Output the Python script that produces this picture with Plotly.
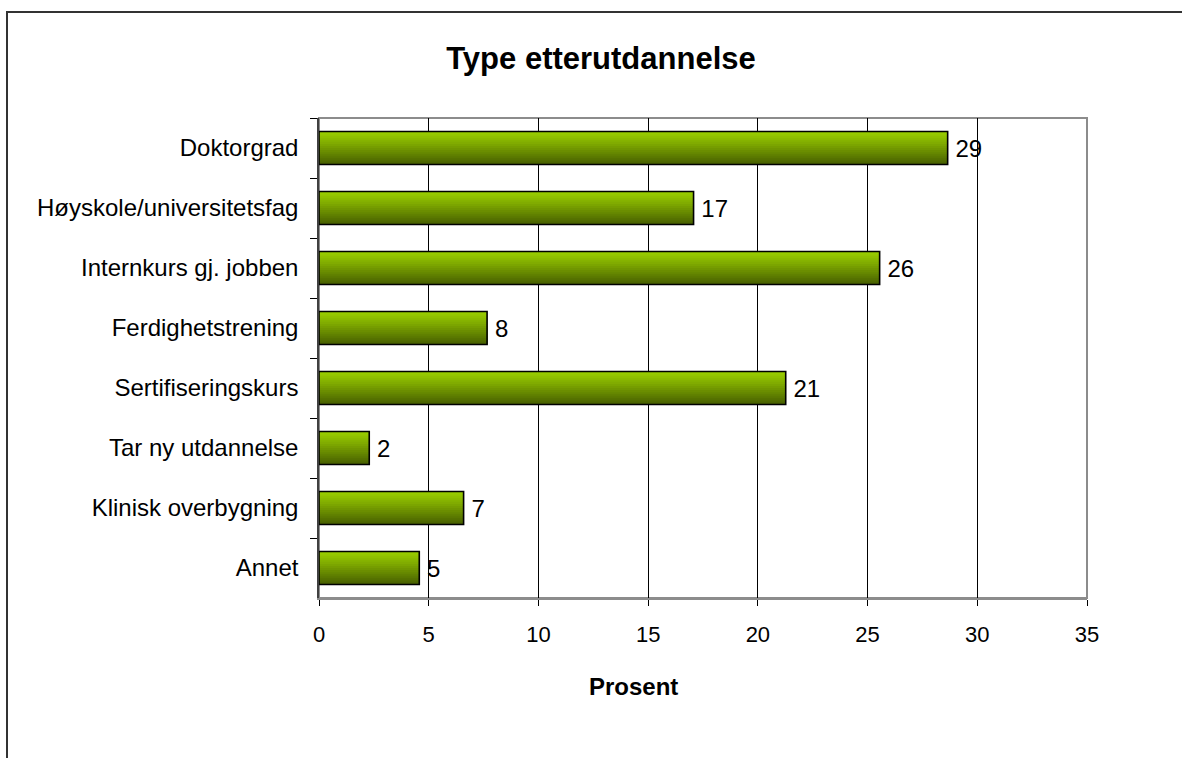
import plotly.graph_objects as go

# Survey result: type of further education (percent of respondents)
categories = [
    "Doktorgrad",
    "Høyskole/universitetsfag",
    "Internkurs gj. jobben",
    "Ferdighetstrening",
    "Sertifiseringskurs",
    "Tar ny utdannelse",
    "Klinisk overbygning",
    "Annet",
]
percent = [28.65, 17.07, 25.55, 7.66, 21.27, 2.29, 6.59, 4.57]
x_ticks = [0, 5, 10, 15, 20, 25, 30, 35]

FONT = "Liberation Sans, Arial, sans-serif"
W, H = 1182, 758
L, R, T, B = 319, 95, 118, 160
plot_w, plot_h = W - L - R, H - T - B

BAR_W = 0.55
N_STRIPS = 16
top_rgb = (153, 204, 0)
bot_rgb = (72, 96, 0)


def mix(t):
    # light green at the top, fading to dark olive towards the bottom
    t = t ** 1.1
    c = [round(a + (b - a) * t) for a, b in zip(top_rgb, bot_rgb)]
    return f"rgb({c[0]},{c[1]},{c[2]})"


fig = go.Figure()

# vertical gradient fill: stacked strips, each running to the bar's lower edge
step = BAR_W / N_STRIPS
for i in range(N_STRIPS):
    fig.add_trace(go.Bar(
        x=percent, y=categories, orientation="h",
        width=BAR_W - i * step, offset=-BAR_W / 2 + i * step,
        marker=dict(color=mix(i / (N_STRIPS - 1)), line=dict(width=0)),
        hoverinfo="skip", showlegend=False,
    ))

# outline + value labels
fig.add_trace(go.Bar(
    x=percent, y=categories, orientation="h",
    width=BAR_W, offset=-BAR_W / 2,
    marker=dict(color="rgba(0,0,0,0)", line=dict(color="black", width=1.6)),
    text=percent, texttemplate="\u2009%{x:.0f}", textposition="outside",
    textfont=dict(family=FONT, size=24, color="black"),
    constraintext="none", cliponaxis=False, showlegend=False,
))

fig.update_layout(
    width=W, height=H,
    margin=dict(l=L, r=R, t=T, b=B, pad=0),
    paper_bgcolor="white", plot_bgcolor="white",
    barmode="overlay", bargap=0.45,
    font=dict(family=FONT, color="black"),
    title=dict(
        text="<b>Type etterutdannelse</b>",
        font=dict(family=FONT, size=31, color="black"),
        x=601 / W, xref="container", xanchor="center",
        y=1 - 58 / H, yref="container", yanchor="middle",
    ),
    xaxis=dict(
        range=[0, 35], tickvals=x_ticks, ticktext=[str(v) for v in x_ticks],
        showgrid=True, gridcolor="black", gridwidth=1,
        zeroline=False, showline=True, linecolor="#8c8c8c", linewidth=2,
        ticks="outside", ticklen=6, tickcolor="black", tickwidth=1,
        tickfont=dict(family=FONT, size=22, color="black"),
        ticklabelstandoff=10, fixedrange=True,
    ),
    yaxis=dict(
        categoryorder="array", categoryarray=categories,
        autorange="reversed", showgrid=False, zeroline=False,
        showline=True, linecolor="#404040", linewidth=1.5,
        ticks="outside", tickson="boundaries", ticklen=7,
        tickcolor="black", tickwidth=1,
        tickfont=dict(family=FONT, size=24, color="black"),
        ticklabelstandoff=14, fixedrange=True,
    ),
)

# x-axis title
fig.add_annotation(
    text="<b>Prosent</b>", xref="paper", yref="paper",
    x=(633 - L) / plot_w, y=(H - B - 686) / plot_h,
    xanchor="center", yanchor="middle", showarrow=False,
    font=dict(family=FONT, size=24, color="black"),
)

# plot-area frame (grey) on top and right
fig.add_shape(type="rect", xref="paper", yref="paper", x0=0, x1=1, y0=0, y1=1,
              line=dict(color="#8c8c8c", width=2), layer="below")

# chart-area border
fig.add_shape(type="rect", xref="paper", yref="paper",
              x0=(7 - L) / plot_w, x1=(W + 40 - L) / plot_w,
              y0=(H - B - (H + 40)) / plot_h, y1=(H - B - 12) / plot_h,
              line=dict(color="#333333", width=2), layer="below")

fig.write_html("out.html")
